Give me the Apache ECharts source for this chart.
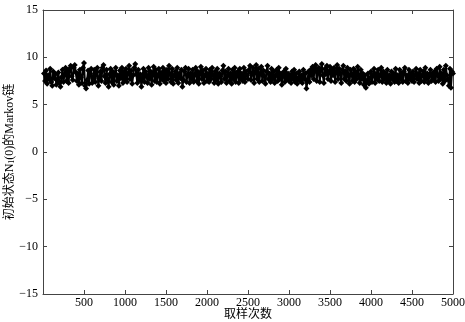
<!DOCTYPE html>
<html><head><meta charset="utf-8">
<script src="https://cdn.jsdelivr.net/npm/echarts@6/dist/echarts.min.js"></script>
<style>html,body{margin:0;padding:0;background:#fff}#c{width:465px;height:322px}</style>
</head><body><div id="c"></div>
<script>
var sampleStep = 12.5;
var chainValues = [
8.3,7.5,8.6,7.2,8.1,7.7,8.8,7.4,7.0,8.5,7.8,8.2,7.1,7.6,8.4,7.3,6.9,7.9,8.7,7.4,
8.2,8.9,7.5,8.6,7.3,8.8,9.1,8.0,7.6,8.9,9.2,8.4,7.5,8.3,7.1,8.7,7.9,7.3,8.9,9.4,
7.0,6.7,7.6,8.6,7.2,8.3,8.8,7.3,7.8,8.7,7.4,8.4,8.9,7.0,7.8,8.5,7.5,8.9,9.2,8.0,
7.3,8.7,7.7,6.9,8.2,8.8,7.4,8.5,7.1,8.3,8.9,7.5,8.1,7.0,8.6,7.8,8.9,7.3,8.5,7.6,
8.8,7.4,8.3,9.1,7.7,8.6,7.2,8.1,8.9,9.3,8.2,7.3,8.7,7.6,8.2,6.9,7.8,8.8,7.4,8.5,
8.1,7.3,8.9,7.7,8.5,7.1,8.3,9.0,7.5,8.7,7.4,8.1,8.8,7.2,8.4,7.7,8.9,7.5,8.6,7.3,
8.7,7.7,9.1,8.2,7.4,8.8,7.2,8.1,8.5,7.6,8.9,7.3,8.3,7.8,8.7,6.9,7.6,8.5,8.9,7.4,
8.1,8.8,7.3,8.3,7.7,8.7,7.4,8.2,8.9,7.5,8.5,7.2,8.3,9.0,7.7,8.6,7.3,8.1,8.8,7.5,
8.3,7.4,8.7,7.7,8.9,8.1,7.3,8.5,7.6,8.8,7.2,8.3,8.0,7.4,8.6,9.1,7.7,8.5,7.3,8.1,
8.8,7.5,8.3,7.2,8.7,7.7,8.9,7.4,8.1,8.5,7.3,8.8,7.7,8.3,7.5,8.9,7.4,8.5,8.1,7.7,
8.7,9.1,7.6,8.3,8.9,7.3,8.5,9.2,7.7,8.8,7.4,8.3,9.0,7.5,8.6,8.0,7.2,8.5,9.1,7.7,
8.3,7.4,8.8,7.7,8.5,7.3,8.1,8.7,7.5,8.9,7.7,8.3,7.1,8.1,8.5,7.4,8.8,7.7,8.3,7.5,
8.1,7.3,8.5,7.7,8.7,7.4,8.3,7.2,7.8,8.5,7.5,8.1,7.3,8.7,7.7,8.3,6.7,7.5,8.5,7.4,
8.7,8.1,9.0,7.7,8.8,9.2,7.5,8.5,8.9,7.4,8.7,9.3,8.1,7.3,8.8,8.2,9.1,7.7,8.5,9.0,
7.5,8.7,8.1,8.9,7.4,8.5,9.2,7.7,8.8,8.3,7.3,8.7,9.1,7.7,8.5,7.5,8.9,8.1,7.2,8.7,
8.3,7.5,8.8,7.4,8.5,7.7,9.0,8.1,7.3,8.7,7.7,8.3,7.1,8.1,6.8,7.5,8.3,7.2,7.8,8.5,
7.4,8.1,8.8,7.3,8.3,7.7,8.7,7.5,8.1,8.9,7.4,8.5,7.7,8.3,7.3,8.7,7.5,8.1,7.2,8.5,
7.7,8.3,7.4,8.8,7.5,8.1,7.3,8.7,7.7,8.3,7.4,8.5,8.9,7.5,8.1,7.3,8.7,7.7,8.3,7.5,
8.5,7.4,8.1,8.8,7.7,8.3,7.3,8.7,7.5,8.1,8.5,7.4,8.9,7.7,8.3,7.3,8.1,8.7,7.5,8.3,
7.7,8.5,7.4,8.8,8.1,7.5,9.0,7.7,8.3,7.2,8.7,7.5,9.1,8.1,7.7,7.0,8.8,6.8,8.5,8.3
];
var xTicks = [0,500,1000,1500,2000,2500,3000,3500,4000,4500,5000];
var yTicks = [-15,-10,-5,0,5,10,15];
var xTitle = '取样次数';
var yTitleMain = '初始状态N';
var yTitleSub = '1';
var yTitleTail = '(0)的Markov链';

var seriesData = chainValues.map(function(v,i){return [(i+1)*sampleStep, v];});
var font = '"Liberation Serif","Times New Roman",serif';
var axisLine = {show:true, onZero:false, lineStyle:{color:'#444', width:1}};
var tick = {inside:true, length:4, lineStyle:{color:'#444'}};
var chart = echarts.init(document.getElementById('c'), null, {renderer:'canvas'});
chart.setOption({
  animation:false,
  backgroundColor:'#fff',
  grid:{left:43, right:12, top:10, bottom:28, containLabel:false, outerBoundsMode:'none'},
  xAxis:[{
    type:'value', min:xTicks[0], max:xTicks[xTicks.length-1], interval:500,
    axisLine:axisLine, axisTick:tick, splitLine:{show:false},
    axisLabel:{color:'#000', fontFamily:font, fontSize:12, margin:3,
      formatter:function(v){return v===0?'':String(v);}},
    name:xTitle, nameLocation:'middle', nameGap:13, nameMoveOverlap:false,
    nameTextStyle:{color:'#000', fontSize:12, fontFamily:'"Noto Sans CJK SC",serif'}
  },{
    type:'value', position:'top', min:xTicks[0], max:xTicks[xTicks.length-1], interval:500,
    axisLine:axisLine, axisTick:tick, axisLabel:{show:false}, splitLine:{show:false}
  }],
  yAxis:[{
    type:'value', min:yTicks[0], max:yTicks[yTicks.length-1], interval:5,
    axisLine:axisLine, axisTick:tick, splitLine:{show:false},
    axisLabel:{color:'#000', fontFamily:font, fontSize:12, margin:5,
      formatter:function(v){return v<0?'\u2212'+Math.abs(v):String(v);}},
    name:'{m|'+yTitleMain+'}{s|'+yTitleSub+'}{m|'+yTitleTail+'}',
    nameLocation:'middle', nameGap:27, nameMoveOverlap:false,
    nameTextStyle:{rich:{
      m:{fontSize:12, color:'#000', fontFamily:'"Liberation Serif","Noto Sans CJK SC",serif'},
      s:{fontSize:8, color:'#000', fontFamily:font, verticalAlign:'bottom', padding:[5,0,0,0]}
    }}
  },{
    type:'value', position:'right', min:yTicks[0], max:yTicks[yTicks.length-1], interval:5,
    axisLine:axisLine, axisTick:tick, axisLabel:{show:false}, splitLine:{show:false}
  }],
  series:[{
    type:'line', data:seriesData, xAxisIndex:0, yAxisIndex:0,
    showSymbol:true, showAllSymbol:true, symbol:'diamond', symbolSize:6,
    lineStyle:{color:'#000', width:2}, itemStyle:{color:'#000'},
    silent:true
  }]
});
</script>
</body></html>
